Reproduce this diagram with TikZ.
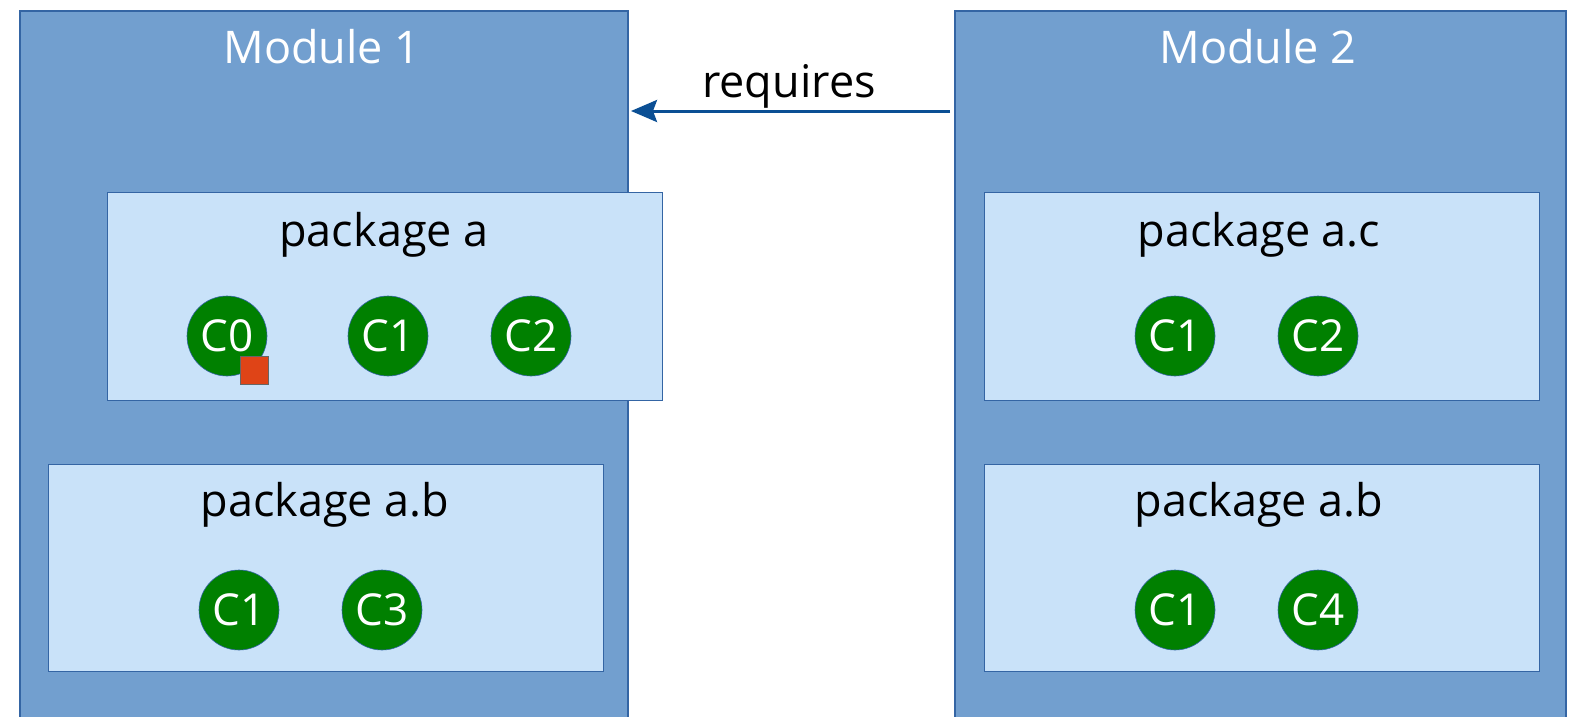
\documentclass[tikz,border=0pt]{standalone}
\usepackage{fontspec}
\setmainfont{Open Sans}
\usetikzlibrary{arrows.meta}
\definecolor{modfill}{HTML}{729FCF}
\definecolor{modline}{HTML}{3465A4}
\definecolor{pkgfill}{HTML}{C9E2F9}
\definecolor{cgreen}{HTML}{008000}
\definecolor{sqred}{HTML}{DF4417}
\definecolor{arrblue}{HTML}{0B4F94}
\begin{document}
\begin{tikzpicture}[x=1pt,y=-1pt,
  module/.style={draw=modline,fill=modfill,line width=1.2pt},
  pkg/.style={draw=modline,fill=pkgfill,line width=1pt},
  cls/.style={circle,draw=modline,fill=cgreen,line width=0.6pt,minimum size=80pt,inner sep=0pt,text=white,font=\fontsize{44}{48}\selectfont},
  modtitle/.style={text=white,font=\fontsize{45}{50}\selectfont},
  pkgtitle/.style={text=black,font=\fontsize{45}{50}\selectfont}]
\useasboundingbox (0,0) rectangle (1574,717);
% modules
\draw[module] (20,11) rectangle (628,720);
\draw[module] (955,11) rectangle (1566,720);
\node[modtitle] (m1) at (322,47) {Module 1};
\node[modtitle] (m2) at (1258,47) {Module 2};
% packages
\draw[pkg] (107,192) rectangle (662,400);
\draw[pkg] (48,464) rectangle (603,671);
\draw[pkg] (984,192) rectangle (1539,400);
\draw[pkg] (984,464) rectangle (1539,671);
\node[pkgtitle] (p1) at (384,235) {package a};
\node[pkgtitle] (p2) at (325,505) {package a.b};
\node[pkgtitle] (p3) at (1259,235) {package a.c};
\node[pkgtitle] (p4) at (1259,505) {package a.b};
% classes
\node[cls] (a0) at (227,336) {C0};
\node[cls] (a1) at (388,336) {C1};
\node[cls] (a2) at (531,336) {C2};
\node[cls] (b1) at (239,610) {C1};
\node[cls] (b3) at (382,610) {C3};
\node[cls] (c1) at (1175,336) {C1};
\node[cls] (c2) at (1318,336) {C2};
\node[cls] (d1) at (1175,610) {C1};
\node[cls] (d4) at (1318,610) {C4};
\draw[fill=sqred,draw=gray!80!black,line width=0.6pt] (240,356) rectangle (268,384);
% requires arrow
\coordinate (r0) at (950,111);
\coordinate (r1) at (631,111);
\draw[arrblue,line width=3pt,-{Stealth[length=26pt,width=22pt,inset=4pt]}] (r0) -- (r1);
\node[font=\fontsize{45}{50}\selectfont] (req) at (789,86) {requires};
\end{tikzpicture}
\end{document}
